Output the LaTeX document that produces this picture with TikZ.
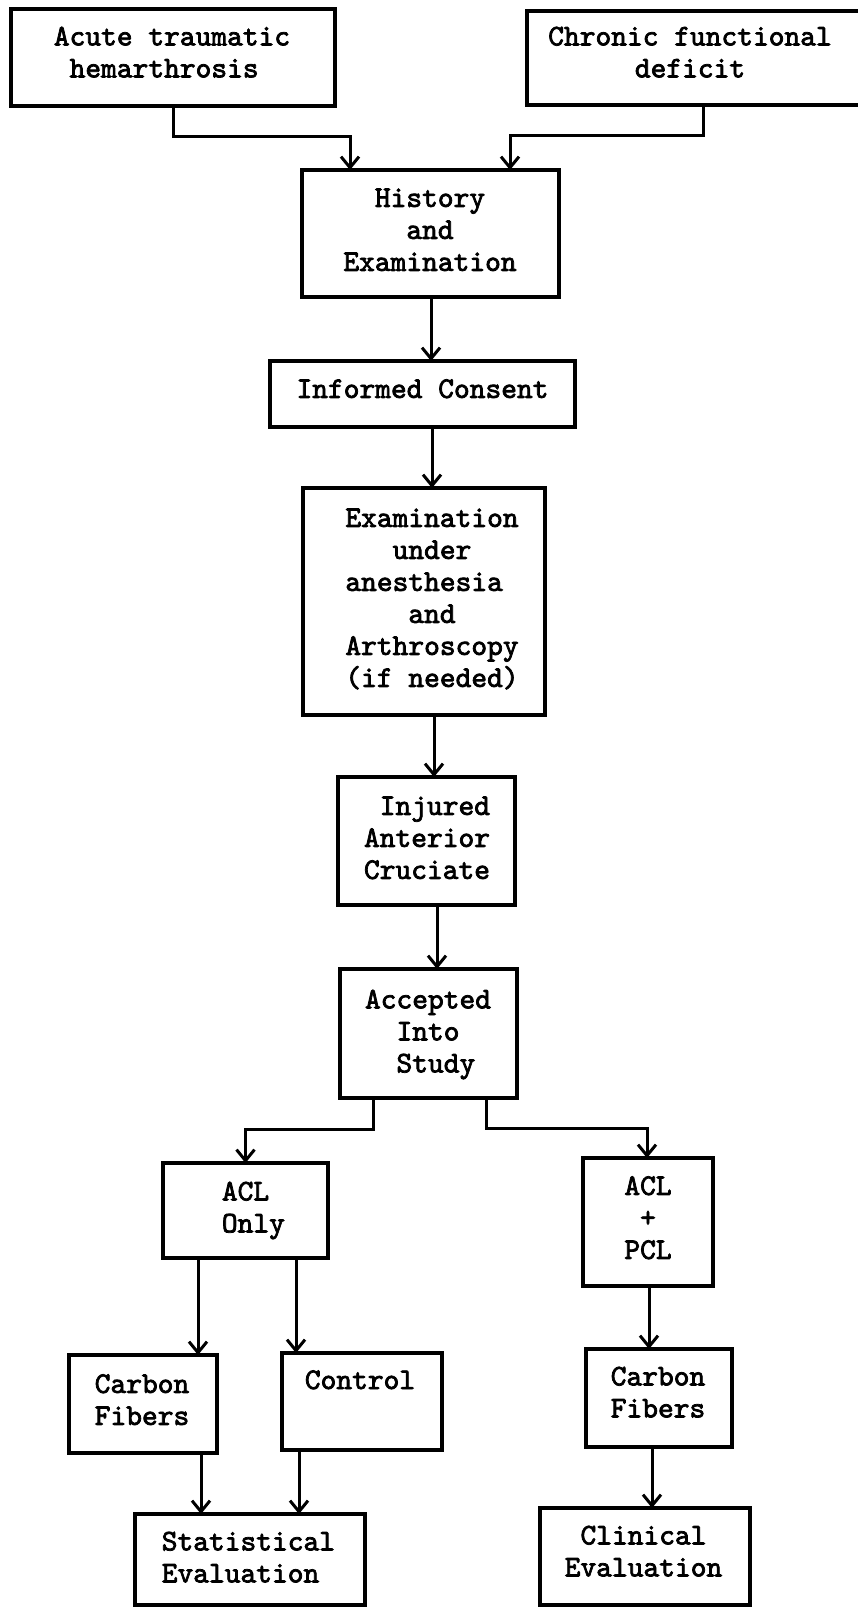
\documentclass[tikz,border=0pt]{standalone}
\usepackage{fontspec}
\newfontfamily\typew{lmmono10-regular.otf}[FakeBold=2.5]
\usetikzlibrary{arrows.meta,calc}
\begin{document}
\begin{tikzpicture}[x=1pt,y=-1pt,
  box/.style={draw, line width=3.5pt, inner sep=0pt, outer sep=0pt},
  txt/.style={font=\typew\fontsize{30}{32}\selectfont, inner sep=0pt, align=center},
  txtl/.style={txt, align=left},
  link/.style={line width=3pt},
  arr/.style={line width=3pt, -{Straight Barb[length=11pt,width=18pt,line width=3pt]}}]
\useasboundingbox (0,0) rectangle (857,1609);

% boxes
\node[box, minimum width=324pt, minimum height=97pt]  (acute) at (173,57.5) {};
\node[box, minimum width=373pt, minimum height=94pt]  (chron) at (713.5,58) {};
\node[box, minimum width=257pt, minimum height=127pt] (hist)  at (430.5,233.5) {};
\node[box, minimum width=305pt, minimum height=66pt]  (cons)  at (422.5,394) {};
\node[box, minimum width=242pt, minimum height=227pt] (exam)  at (424,601.5) {};
\node[box, minimum width=177pt, minimum height=128pt] (inj)   at (426.5,841) {};
\node[box, minimum width=177pt, minimum height=129pt] (acc)   at (428.5,1033.5) {};
\node[box, minimum width=165pt, minimum height=95pt]  (aclo)  at (245.5,1210.5) {};
\node[box, minimum width=130pt, minimum height=128pt] (aclp)  at (648,1222) {};
\node[box, minimum width=148pt, minimum height=98pt]  (carbl) at (143,1404) {};
\node[box, minimum width=160pt, minimum height=97pt]  (ctrl)  at (362,1401.5) {};
\node[box, minimum width=146pt, minimum height=98pt]  (carbr) at (659,1398) {};
\node[box, minimum width=230pt, minimum height=91pt]  (stat)  at (250,1559.5) {};
\node[box, minimum width=210pt, minimum height=97pt]  (clin)  at (645,1556.5) {};

% texts
\node[txt] (acute-t) at (172,55) {\strut Acute traumatic\\\strut hemarthrosis\hphantom{x}};
\node[txt] (chron-t) at (690,55) {\strut Chronic functional\\\strut deficit};
\node[txt] (hist-t) at (430,232.5) {\strut History\\\strut and\\\strut Examination};
\node[txt] (cons-t) at (422.5,391.5) {\strut Informed Consent};
\node[txt] (exam-t) at (432,600.5) {\strut Examination\\\strut under\\\strut anesthesia\hphantom{x}\\\strut and\\\strut Arthroscopy\\\strut (if needed)};
\node[txt] (inj-t) at (427,840.5) {\strut\hphantom{x}Injured\\\strut Anterior\\\strut Cruciate};
\node[txt] (acc-t) at (428,1034) {\strut Accepted\\\strut Into\\\strut\hphantom{x}Study};
\node[txtl] (aclo-t) at (253.4,1210) {\strut ACL\\\strut Only};
\node[txt] (aclp-t) at (648,1220.5) {\strut ACL\\\strut +\\\strut PCL};
\node[txt] (carbl-t) at (142,1402.5) {\strut Carbon\\\strut Fibers};
\node[txt] (ctrl-t) at (360,1382.6) {\strut Control};
\node[txt] (carbr-t) at (658,1395) {\strut Carbon\\\strut Fibers};
\node[txtl] (stat-t) at (248.4,1560) {\strut Statistical\\\strut Evaluation};
\node[txt] (clin-t) at (643.5,1554) {\strut Clinical\\\strut Evaluation};

% connector x positions
\coordinate (xa) at (350,0);
\coordinate (xb) at (510,0);
\coordinate (xc) at (703,0);
\coordinate (xh) at (431,0);
\coordinate (xi) at (432,0);
\coordinate (xe) at (434,0);
\coordinate (xj) at (437,0);
\coordinate (xl) at (373,0);
\coordinate (xr) at (486,0);
\coordinate (xp) at (647,0);
\coordinate (xo1) at (198,0);
\coordinate (xo2) at (296,0);
\coordinate (xs1) at (201,0);
\coordinate (xs2) at (299,0);
\coordinate (xq1) at (649,0);
\coordinate (xq2) at (652,0);

% connectors
\draw[arr] (acute.south) -- ++(0,30) -| (hist.north -| xa);
\draw[arr] (chron.south -| xc) -- ++(0,30) -| (hist.north -| xb);
\draw[arr] (hist.south -| xh) -- (cons.north -| xh);
\draw[arr] (cons.south -| xi) -- (exam.north -| xi);
\draw[arr] (exam.south -| xe) -- (inj.north -| xe);
\draw[arr] (inj.south -| xj) -- (acc.north -| xj);
\draw[arr] (acc.south -| xl) -- ++(0,31) -| (aclo.north);
\draw[arr] (acc.south -| xr) -- ++(0,30) -| (aclp.north -| xp);
\draw[arr] (aclo.south -| xo1) -- (carbl.north -| xo1);
\draw[arr] (aclo.south -| xo2) -- (ctrl.north -| xo2);
\draw[arr] (carbl.south -| xs1) -- (stat.north -| xs1);
\draw[arr] (ctrl.south -| xs2) -- (stat.north -| xs2);
\draw[arr] (aclp.south -| xq1) -- (carbr.north -| xq1);
\draw[arr] (carbr.south -| xq2) -- (clin.north -| xq2);
\end{tikzpicture}
\end{document}
